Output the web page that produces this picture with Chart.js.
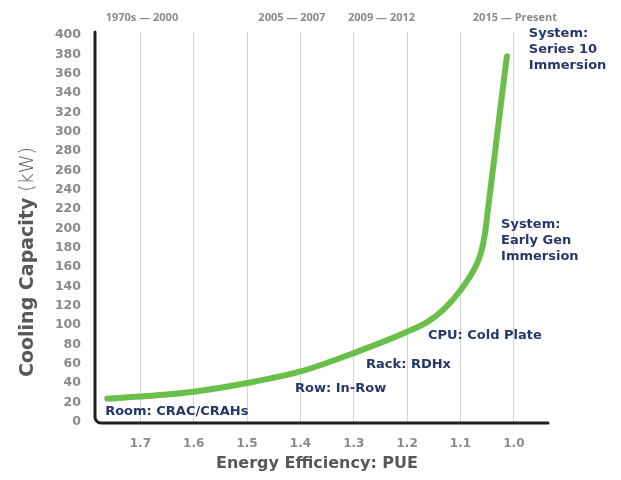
<!DOCTYPE html>
<html>
<head>
<meta charset="utf-8">
<script src="https://cdn.jsdelivr.net/npm/chart.js@4.4.1/dist/chart.umd.min.js"></script>
<style>
  html, body { margin: 0; padding: 0; background: #fff; }
  #wrap { width: 621px; height: 480px; }
</style>
</head>
<body>
<div id="wrap"><canvas id="grafica"></canvas></div>
<script>
// Datos
const pue = [1.762, 1.70, 1.60, 1.50, 1.40, 1.30, 1.20, 1.16, 1.13, 1.10, 1.075, 1.062, 1.054, 1.048, 1.035, 1.024, 1.013]
const kw  = [24, 26, 31, 40, 52, 71, 93, 104, 117, 136, 157, 174, 195, 222, 280, 330, 378]

const xTicks = [1.7, 1.6, 1.5, 1.4, 1.3, 1.2, 1.1, 1.0]
const yTicks = [0, 20, 40, 60, 80, 100, 120, 140, 160, 180, 200, 220, 240, 260, 280, 300, 320, 340, 360, 380, 400]

const eras   = ['1970s — 2000', '2005 — 2007', '2009 — 2012', '2015 — Present']
const stages = [
  ['Room: CRAC/CRAHs'],
  ['Row: In-Row'],
  ['Rack: RDHx'],
  ['CPU: Cold Plate'],
  ['System:', 'Early Gen', 'Immersion'],
  ['System:', 'Series 10', 'Immersion'],
]

// anclas de texto en coordenadas de datos
const ERA_AT   = [1.697, 1.416, 1.248, 0.998]
const STAGE_AT = [[1.766, 10], [1.41, 34], [1.277, 58.7], [1.161, 88.7], [1.024, 203.5], [0.972, 401]]

const NAVY = '#25386a'
const GRAY = '#8a8a8a'
const DARK = '#585858'

const extras = {
  id: 'extras',
  afterDraw(chart) {
    const ctx = chart.ctx
    const a = chart.chartArea
    const x = chart.scales.x, y = chart.scales.y

    // ejes con esquina redondeada
    ctx.save()
    ctx.strokeStyle = '#231f20'
    ctx.lineWidth = 3
    ctx.lineCap = 'round'
    ctx.beginPath()
    ctx.moveTo(a.left, a.top)
    ctx.arcTo(a.left, a.bottom, a.left + 10, a.bottom, 6)
    ctx.lineTo(a.right, a.bottom)
    ctx.stroke()

    // periodos arriba
    ctx.fillStyle = GRAY
    ctx.font = "bold 11px 'Open Sans'"
    ctx.textAlign = 'center'
    ctx.textBaseline = 'middle'
    eras.forEach(function(t, i) { ctx.fillText(t, x.getPixelForValue(ERA_AT[i]), 18) })

    // etiquetas de etapas
    ctx.fillStyle = NAVY
    ctx.font = "bold 13px 'DejaVu Sans'"
    ctx.textAlign = 'left'
    stages.forEach(function(lines, i) {
      const px = x.getPixelForValue(STAGE_AT[i][0])
      const py = y.getPixelForValue(STAGE_AT[i][1])
      lines.forEach(function(t, j) { ctx.fillText(t, px, py + j * 16) })
    })

    // titulo eje x
    ctx.fillStyle = DARK
    ctx.textAlign = 'center'
    ctx.font = "bold 16px 'DejaVu Sans'"
    ctx.fillText('Energy Efficiency: PUE', 317, 464)

    // titulo eje y (negrita + ligera)
    ctx.translate(28, 262)
    ctx.rotate(-Math.PI / 2)
    const f1 = "bold 19px 'DejaVu Sans'"
    const f2 = "300 19px 'DejaVu Sans'"
    const t1 = 'Cooling Capacity'
    const t2 = ' (kW)'
    ctx.font = f1
    const w1 = ctx.measureText(t1).width
    ctx.font = f2
    const w2 = ctx.measureText(t2).width
    ctx.textAlign = 'left'
    ctx.font = f1
    ctx.fillText(t1, -(w1 + w2) / 2, 0)
    ctx.font = f2
    ctx.fillText(t2, -(w1 + w2) / 2 + w1, 0)
    ctx.restore()
  }
}

new Chart(document.getElementById('grafica'), {
  type: 'line',
  data: {
    datasets: [{
      data: pue.map(function(v, i) { return { x: v, y: kw[i] } }),
      borderColor: '#6abf4b',
      borderWidth: 6,
      borderCapStyle: 'round',
      borderJoinStyle: 'round',
      cubicInterpolationMode: 'monotone',
      pointRadius: 0,
      fill: false,
      clip: false,
    }]
  },
  options: {
    responsive: true,
    maintainAspectRatio: false,
    animation: false,
    layout: { padding: { left: 0, top: 32, right: 73, bottom: 0 } },
    plugins: { legend: { display: false }, tooltip: { enabled: false } },
    scales: {
      x: {
        type: 'linear',
        reverse: true,
        min: 0.936,
        max: 1.785,
        afterBuildTicks: function(s) { s.ticks = xTicks.map(function(v) { return { value: v } }) },
        afterFit: function(s) { s.height = 57 },
        grid: { color: '#d2d2d2', lineWidth: 1, drawTicks: false },
        border: { display: false },
        ticks: {
          padding: 14,
          color: GRAY,
          font: { family: 'DejaVu Sans', weight: 'bold', size: 12 },
          callback: function(v) { return v.toFixed(1) }
        }
      },
      y: {
        min: -1.3,
        max: 403.1,
        afterBuildTicks: function(s) { s.ticks = yTicks.map(function(v) { return { value: v } }) },
        afterFit: function(s) { s.width = 95 },
        grid: { display: false, drawTicks: false },
        border: { display: false },
        ticks: {
          padding: 14,
          color: GRAY,
          font: { family: 'DejaVu Sans', weight: 'bold', size: 12.5 }
        }
      }
    }
  },
  plugins: [extras]
})
</script>
</body>
</html>
